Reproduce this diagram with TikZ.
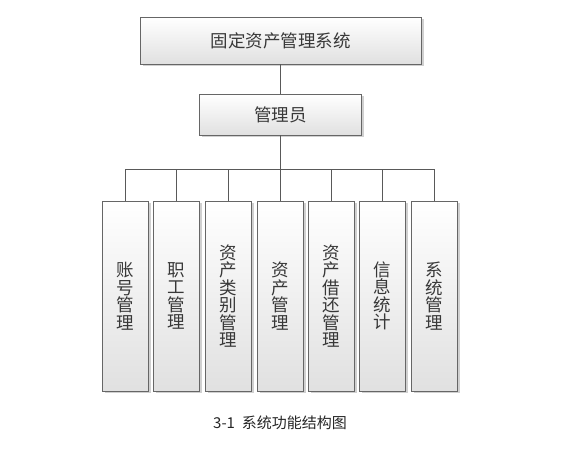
\documentclass[tikz,border=0pt]{standalone}
\usepackage{fontspec}
\setmainfont{Noto Sans CJK SC}
\usetikzlibrary{shadows}
\begin{document}
\begin{tikzpicture}[x=1pt,y=-1pt,
  box/.style={draw=black!60, line width=0.8pt, top color=white, bottom color=black!12,
    drop shadow={shadow xshift=2.5pt,shadow yshift=-2.5pt,opacity=0.3,fill=black!60},
    inner sep=0pt, text=black!78, font=\fontsize{17.5}{17.5}\selectfont, align=center},
  leaf/.style={box, minimum width=46, minimum height=190},
  link/.style={draw=black!65, line width=0.8pt}]
\useasboundingbox[fill=white] (0,0) rectangle (584,454);
\node[box, minimum width=281, minimum height=47] (sys) at (280.5,40.5) {固定资产管理系统};
\node[box, minimum width=162, minimum height=41] (admin) at (280.5,114.5) {管理员};
\node[leaf] (l1) at (125,296) {账\\号\\管\\理};
\node[leaf] (l2) at (176.5,296) {职\\工\\管\\理};
\node[leaf] (l3) at (228,296) {资\\产\\类\\别\\管\\理};
\node[leaf] (l4) at (280,296) {资\\产\\管\\理};
\node[leaf] (l5) at (331,296) {资\\产\\借\\还\\管\\理};
\node[leaf] (l6) at (382.5,296) {信\\息\\统\\计};
\node[leaf] (l7) at (434,296) {系\\统\\管\\理};
\coordinate (bus) at (280.5,169);
\draw[link] (sys) -- (admin);
\draw[link] (admin.south) -- (admin.south |- bus);
\draw[link] (l1.north |- bus) -- (l7.north |- bus);
\foreach \n in {l1,l2,l3,l4,l5,l6,l7} \draw[link] (\n.north) -- (\n.north |- bus);
\node[text=black!85, font=\fontsize{15}{17}\selectfont] (cap) at (280,423) {3-1\ \ 系统功能结构图};
\end{tikzpicture}
\end{document}
